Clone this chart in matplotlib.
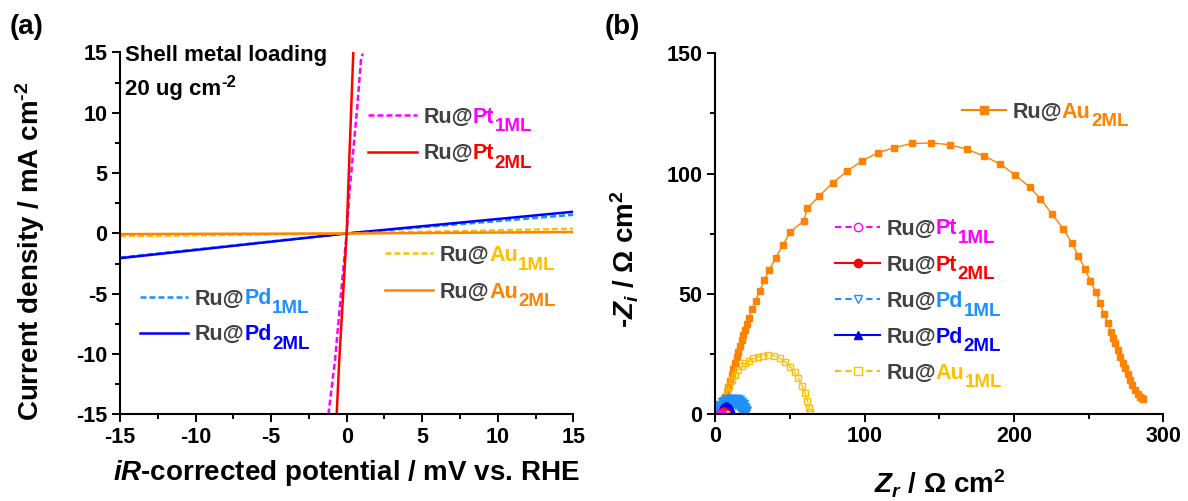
import matplotlib as mpl
import matplotlib.pyplot as plt
from matplotlib.ticker import MultipleLocator

plt.rcParams['font.family'] = 'Liberation Sans'
plt.rcParams['font.weight'] = 'bold'
plt.rcParams['axes.unicode_minus'] = False
plt.rcParams['mathtext.fontset'] = 'custom'
plt.rcParams['mathtext.rm'] = 'Liberation Sans:bold'
plt.rcParams['mathtext.it'] = 'Liberation Sans:italic:bold'
plt.rcParams['mathtext.bf'] = 'Liberation Sans:bold'

GRAY = '#404040'
MAGENTA = '#FF00FF'
RED = '#FF0000'
LBLUE = '#1E90FF'
BLUE = '#0000FF'
YELLOW = '#FFC000'
ORANGE = '#FF8200'

# (a) polarization curves, potential in mV, current in mA cm-2
pt1_x = [-1.21, -0.77, -0.33, 0.0, 0.18, 0.44, 0.70, 0.95, 1.06]
pt1_y = [-15.0, -10.5, -4.4, 0.0, 3.3, 6.9, 10.5, 14.4, 14.9]
pt2_x = [-0.66, -0.49, 0.0, 0.20, 0.44]
pt2_y = [-15.0, -10.5, 0.0, 7.0, 15.0]
lin_x = [-15, -10, -5, 0, 5, 10, 15]
pd1_y = [-2.00, -1.33, -0.66, 0.0, 0.52, 1.03, 1.55]
pd2_y = [-2.05, -1.37, -0.68, 0.0, 0.60, 1.20, 1.80]
au1_y = [-0.22, -0.15, -0.07, 0.0, 0.13, 0.26, 0.40]
au2_y = [-0.05, -0.03, -0.02, 0.0, 0.04, 0.08, 0.12]

# (b) Nyquist plots, ohm cm2
au2_zr = [2.9, 3.7, 4.5, 5.6, 6.7, 7.8, 8.9, 10.0, 11.2, 12.3, 13.4, 14.5, 15.6, 16.7,
          17.8, 19.0, 20.1, 21.3, 22.5, 24.5, 27.2, 29.9, 33.0, 36.1, 40.6, 45.3, 50.4,
          59.3, 61.8, 69.6, 78.7, 88.6, 98.6, 108.9, 120.0, 131.6, 144.5, 157.3, 168.9,
          180.2, 190.7, 201.0, 210.8, 217.7, 225.7, 233.1, 238.7, 243.1, 247.6, 251.0,
          255.0, 257.6, 260.3, 262.8, 264.8, 266.2, 267.7, 269.3, 271.0, 272.7, 274.4,
          276.0, 277.7, 279.3, 281.0, 282.7, 284.4, 285.6, 286.6]
au2_zi = [1.0, 2.0, 3.0, 5.1, 7.2, 9.3, 11.4, 13.8, 16.2, 18.6, 21.1, 23.5, 25.9, 28.3,
          30.7, 32.8, 34.9, 37.3, 39.8, 43.6, 47.1, 51.2, 55.7, 59.8, 65.0, 70.2, 75.8,
          80.3, 85.5, 90.6, 96.1, 101.1, 105.4, 108.6, 110.8, 112.5, 112.7, 112.0, 110.0,
          107.2, 104.0, 99.3, 94.2, 89.5, 83.0, 76.9, 71.2, 65.7, 60.2, 55.3,
          50.6, 46.0, 41.4, 38.0, 34.2, 31.8, 29.4, 26.6, 23.8, 21.4, 19.0,
          16.5, 14.1, 12.0, 10.0, 8.5, 7.2, 6.6, 6.1]
au1_zr = [3.3, 4.5, 6.0, 7.8, 9.5, 11.2, 13.3, 15.6, 17.8, 20.1, 22.8, 25.7, 28.8, 32.0,
          35.7, 39.5, 43.5, 47.0, 50.2, 53.2, 55.8, 58.2, 60.2, 61.8, 63.1, 63.6]
au1_zi = [1.7, 4.5, 6.5, 8.6, 11.5, 14.1, 16.3, 18.3, 19.8, 21.1, 22.2, 23.1, 23.8, 24.3,
          24.5, 24.2, 23.1, 21.6, 19.7, 17.3, 14.8, 11.7, 8.6, 5.5, 2.4, 1.0]
pd1_zr = [3.3, 4.2, 5.3, 6.5, 7.8, 9.2, 10.6, 12.0, 13.4, 14.8, 16.0, 17.2, 18.2, 19.0, 19.4]
pd1_zi = [0.8, 2.0, 3.1, 4.0, 4.7, 5.2, 5.4, 5.4, 5.2, 4.8, 4.1, 3.2, 2.2, 1.2, 0.5]
pd2_zr = [3.5, 4.1, 4.9, 5.8, 6.8, 7.8, 8.8, 9.7, 10.5, 11.1, 11.4]
pd2_zi = [0.6, 1.5, 2.4, 3.0, 3.3, 3.3, 3.0, 2.5, 1.8, 1.0, 0.4]
pt2_zr = [3.5, 4.2, 5.0, 5.8, 6.6, 7.3, 7.7]
pt2_zi = [0.3, 0.8, 1.1, 1.2, 1.0, 0.6, 0.2]
pt1_zr = [2.6, 3.2, 3.9, 4.5, 5.0]
pt1_zi = [0.2, 0.5, 0.6, 0.5, 0.2]

FS = 15.5
DASH = (0, (2.4, 1.2))


def style_axes(ax):
  for side in ['top', 'right']:
    ax.spines[side].set_visible(False)
  for side in ['left', 'bottom']:
    ax.spines[side].set_linewidth(1.5)
  ax.tick_params(which='major', direction='out', length=6, width=1.4, labelsize=FS, pad=3)
  ax.tick_params(which='minor', direction='out', length=3.5, width=1.4)


def entry(ax, x0, x1, y, color, ls, metal, sub, marker=None, mfc=None, lw=1.8, ms=6):
  ax.plot([x0, x1], [y, y], transform=ax.transAxes, color=color, ls=ls, lw=lw, clip_on=False)
  if marker:
    ax.plot([(x0 + x1) / 2], [y], transform=ax.transAxes, marker=marker, ms=ms,
            color=color, mfc=mfc, mec=color, ls='none', clip_on=False)
  t = ax.annotate('Ru@', xy=(x1, y), xycoords='axes fraction', xytext=(4.5, -5.5),
                  textcoords='offset points', color=GRAY, fontsize=FS, va='baseline')
  t = ax.annotate(metal, xy=(1, 0), xycoords=t, color=color, fontsize=FS, va='bottom')
  ax.annotate(sub, xy=(1, 0), xycoords=t, xytext=(0.3, -5.5), textcoords='offset points',
              color=color, fontsize=13.5, va='bottom')


fig = plt.figure(figsize=(11.88, 5.01), dpi=100)

# ---- panel (a)
ax = fig.add_axes([0.1010, 0.1727, 0.3816, 0.7226])
ax.plot(lin_x, pd1_y, color=LBLUE, ls=DASH, lw=1.8)
ax.plot(lin_x, pd2_y, color=BLUE, lw=1.8)
ax.plot(lin_x, au1_y, color=YELLOW, ls=DASH, lw=1.8)
ax.plot(lin_x, au2_y, color=ORANGE, lw=1.8)
ax.plot(pt1_x, pt1_y, color=MAGENTA, ls=DASH, lw=1.8)
ax.plot(pt2_x, pt2_y, color=RED, lw=1.8)
ax.set_xlim(-15, 15)
ax.set_ylim(-15, 15)
ax.xaxis.set_major_locator(MultipleLocator(5))
ax.xaxis.set_minor_locator(MultipleLocator(2.5))
ax.yaxis.set_major_locator(MultipleLocator(5))
ax.yaxis.set_minor_locator(MultipleLocator(2.5))
style_axes(ax)
ax.set_xlabel(r'$\mathit{iR}\text{-corrected potential / mV vs. RHE}$', fontsize=20)
ax.xaxis.set_label_coords(0.5, -0.12)
ax.set_ylabel(r'$\text{Current density / mA cm}^{\text{-2}}$', fontsize=20)
ax.yaxis.set_label_coords(-0.16, 0.45)

ax.text(0.011, 0.977, 'Shell metal loading', transform=ax.transAxes, fontsize=16, va='baseline')
t = ax.text(0.011, 0.882, '20 ug cm', transform=ax.transAxes, fontsize=16, va='baseline')
ax.annotate('-2', xy=(1, 0), xycoords=t, xytext=(0.5, 7), textcoords='offset points',
            fontsize=12, va='bottom')

entry(ax, 0.548, 0.655, 0.827, MAGENTA, DASH, 'Pt', '1ML')
entry(ax, 0.548, 0.655, 0.726, RED, '-', 'Pt', '2ML')
entry(ax, 0.585, 0.691, 0.445, YELLOW, DASH, 'Au', '1ML')
entry(ax, 0.585, 0.691, 0.344, ORANGE, '-', 'Au', '2ML')
entry(ax, 0.044, 0.151, 0.325, LBLUE, DASH, 'Pd', '1ML')
entry(ax, 0.044, 0.151, 0.226, BLUE, '-', 'Pd', '2ML')

# ---- panel (b)
bx = fig.add_axes([0.6019, 0.1737, 0.3774, 0.7199])
bx.plot(au2_zr, au2_zi, color=ORANGE, lw=1.0, marker='s', ms=4.5, mec=ORANGE)
bx.plot(au1_zr, au1_zi, color=YELLOW, lw=1.0, ls='--', marker='s', ms=5, mfc='none', mec=YELLOW, mew=1.0)
bx.plot(pd1_zr, pd1_zi, color=LBLUE, lw=1.0, ls='--', marker='v', ms=7, mfc='none', mec=LBLUE, mew=2.5)
bx.plot(pd2_zr, pd2_zi, color=BLUE, lw=1.0, marker='^', ms=6, mec=BLUE)
bx.plot(pt2_zr, pt2_zi, color=RED, lw=1.0, marker='o', ms=5, mec=RED, fillstyle='bottom', mfcalt='white')
bx.plot(pt1_zr, pt1_zi, color=MAGENTA, lw=1.0, ls='--', marker='o', ms=4, mfc='none', mec=MAGENTA)
bx.set_xlim(0, 300)
bx.set_ylim(0, 150)
bx.xaxis.set_major_locator(MultipleLocator(100))
bx.xaxis.set_minor_locator(MultipleLocator(50))
bx.yaxis.set_major_locator(MultipleLocator(50))
bx.yaxis.set_minor_locator(MultipleLocator(25))
style_axes(bx)
bx.set_xlabel(r'$\mathit{Z_r}\text{ / Ω cm}^{2}$', fontsize=20)
bx.xaxis.set_label_coords(0.5, -0.15)
bx.set_ylabel(r'$\text{-}\mathit{Z_i}\text{ / Ω cm}^{2}$', fontsize=20)
bx.yaxis.set_label_coords(-0.165, 0.43)

entry(bx, 0.550, 0.649, 0.843, ORANGE, '-', 'Au', '2ML', marker='s', mfc=ORANGE, lw=1.5)
entry(bx, 0.268, 0.368, 0.519, MAGENTA, (0, (3, 2)), 'Pt', '1ML', marker='o', mfc='white', lw=1.5)
entry(bx, 0.268, 0.368, 0.418, RED, '-', 'Pt', '2ML', marker='o', mfc=RED, lw=1.5)
entry(bx, 0.268, 0.368, 0.318, LBLUE, (0, (3, 2)), 'Pd', '1ML', marker='v', mfc='white', lw=1.5)
entry(bx, 0.268, 0.368, 0.219, BLUE, '-', 'Pd', '2ML', marker='^', mfc=BLUE, lw=1.5)
entry(bx, 0.268, 0.368, 0.119, YELLOW, (0, (3, 2)), 'Au', '1ML', marker='s', mfc='white', lw=1.5)

fig.text(0.008, 0.946, '(a)', fontsize=20, va='center')
fig.text(0.509, 0.946, '(b)', fontsize=20, va='center')

fig.savefig('out.png', dpi=100)
